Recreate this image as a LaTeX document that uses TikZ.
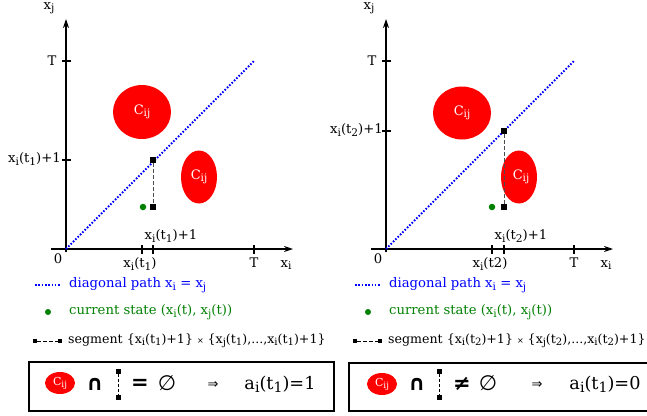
\documentclass[tikz,border=0pt]{standalone}
\usepackage{fontspec}
\setmainfont{DejaVu Serif}
\newfontfamily\symf{DejaVu Sans}
\newcommand\lo[1]{\raisebox{-0.35ex}{\scalebox{0.8}{#1}}}
\newcommand\xx[1]{x\lo{#1}}
\usetikzlibrary{arrows.meta,shapes.geometric}
\begin{document}
\begin{tikzpicture}[x=1pt,y=-1pt,
  axis/.style={line width=1.1pt,-{Stealth[length=9pt,width=6pt]}},
  tickmark/.style={line width=1.1pt},
  lbl/.style={font=\fontsize{13.2}{15}\selectfont, inner sep=0pt},
  big/.style={font=\fontsize{17.7}{20}\selectfont, inner sep=0pt},
  bigsym/.style={font=\fontsize{21}{24}\selectfont\symf, inner sep=0pt},
  diag/.style={blue,line width=1.9pt,dash pattern=on 1.6pt off 1.7pt},
  seg/.style={black!70,line width=0.9pt,dash pattern=on 4pt off 2pt},
  sq/.style={fill=black,draw=none,minimum size=5.5pt,inner sep=0pt,rectangle},
  cur/.style={circle,fill=green!50!black,minimum size=6.5pt,inner sep=0pt},
  blob/.style={ellipse,fill=red,draw=none,inner sep=0pt,text=white,font=\fontsize{13}{15}\selectfont},
  framebox/.style={draw=black,line width=1.2pt}
]
\useasboundingbox (0,0) rectangle (647,415);
\clip (0,0) rectangle (647,415);

% ================= LEFT PLOT =================
\coordinate (Lo) at (66,249);
\coordinate (Lyb) at (66,252);
\coordinate (Lyt) at (66,19);
\coordinate (Lxl) at (51,249);
\coordinate (Lxr) at (293,249);
\draw[axis] (Lyb) -- (Lyt);
\draw[axis] (Lxl) -- (Lxr);
\coordinate (LT) at (255,60);
\draw[diag] (Lo) -- (LT);
% ticks
\draw[tickmark] (62,61) -- (71,61);
\draw[tickmark] (62,160) -- (71,160);
\draw[tickmark] (142,245) -- (142,254);
\draw[tickmark] (153,245) -- (153,254);
\draw[tickmark] (254,245) -- (254,254);
% labels
\node[lbl] (Lxj) at (49,8) {\xx{j}};
\node[lbl] (LTy) at (52,61) {T};
\node[lbl,anchor=east] (Lyl) at (61,159) {\xx{i}(t\lo{1})+1};
\node[lbl] (L0) at (58,259) {0};
\node[lbl] (Lxt) at (140,264) {\xx{i}(t\lo{1})};
\node[lbl] (Lxt1) at (171,236) {\xx{i}(t\lo{1})+1};
\node[lbl] (LTx) at (254,263) {T};
\node[lbl] (Lxi) at (286,265) {\xx{i}};
% obstacles
\node[blob,minimum width=58pt,minimum height=54pt] (Lc1) at (142,112) {C\lo{ij}};
\node[blob,minimum width=36pt,minimum height=53pt] (Lc2) at (199,177) {C\lo{ij}};
% segment
\node[sq] (Ls1) at (153,160) {};
\node[sq] (Ls2) at (153,207) {};
\draw[seg] (Ls1) -- (Ls2);
\node[cur] (Lcur) at (143,207) {};

% ================= RIGHT PLOT =================
\coordinate (Ro) at (386,249);
\coordinate (Ryb) at (386,252);
\coordinate (Ryt) at (386,19);
\coordinate (Rxl) at (371,249);
\coordinate (Rxr) at (613,249);
\draw[axis] (Ryb) -- (Ryt);
\draw[axis] (Rxl) -- (Rxr);
\coordinate (RT) at (575,60);
\draw[diag] (Ro) -- (RT);
\draw[tickmark] (382,61) -- (391,61);
\draw[tickmark] (382,131) -- (391,131);
\draw[tickmark] (492,245) -- (492,254);
\draw[tickmark] (504,245) -- (504,254);
\draw[tickmark] (574,245) -- (574,254);
\node[lbl] (Rxj) at (369,8) {\xx{j}};
\node[lbl] (RTy) at (372,61) {T};
\node[lbl,anchor=east] (Ryl) at (383,130) {\xx{i}(t\lo{2})+1};
\node[lbl] (R0) at (378,259) {0};
\node[lbl] (Rxt) at (490,264) {\xx{i}(t2)};
\node[lbl] (Rxt1) at (521,236) {\xx{i}(t\lo{2})+1};
\node[lbl] (RTx) at (574,263) {T};
\node[lbl] (Rxi) at (606,265) {\xx{i}};
\node[blob,minimum width=58pt,minimum height=53pt] (Rc1) at (462,113) {C\lo{ij}};
\node[blob,minimum width=36pt,minimum height=53pt] (Rc2) at (519,177) {\hspace*{4pt}C\lo{ij}};
\node[sq] (Rs1) at (504,131) {};
\node[sq] (Rs2) at (504,207) {};
\draw[seg] (Rs1) -- (Rs2);
\node[cur] (Rcur) at (492,207) {};

% ================= LEGENDS =================
\foreach \dx/\t in {0/1,320/2}{
  \coordinate (dl\t) at (35+\dx,285);
  \coordinate (dr\t) at (60+\dx,285);
  \draw[diag,line width=1.6pt] (dl\t) -- (dr\t);
  \node[lbl,anchor=west,text=blue] (dt\t) at (69+\dx,285) {diagonal path \xx{i} = \xx{j}};
  \node[cur,minimum size=6pt] (gd\t) at (48+\dx,312) {};
  \node[lbl,anchor=west,text=green!50!black] (gt\t) at (69+\dx,312) {current state (\xx{i}(t), \xx{j}(t))};
  \node[sq,minimum size=4.5pt] (sl\t) at (35+\dx,341) {};
  \node[sq,minimum size=4.5pt] (sr\t) at (60+\dx,341) {};
  \draw[seg,black] (sl\t) -- (sr\t);
}
\node[lbl,anchor=west,font=\fontsize{12.6}{14}\selectfont] (st1) at (68,341) {segment \{\xx{i}(t\lo{1})+1\} {\symf\footnotesize ×} \{\xx{j}(t\lo{1}),...,\xx{i}(t\lo{1})+1\}};
\node[lbl,anchor=west,font=\fontsize{12.6}{14}\selectfont] (st2) at (388,341) {segment \{\xx{i}(t\lo{2})+1\} {\symf\footnotesize ×} \{\xx{j}(t\lo{2}),...,\xx{i}(t\lo{2})+1\}};

% ================= BOXES =================
\draw[framebox] (29,362) rectangle (334,411);
\draw[framebox] (349,363) rectangle (660,411);

% left box
\node[blob,minimum width=30pt,minimum height=22pt,font=\fontsize{11}{12}\selectfont] (bc1) at (60,383) {C\lo{ij}};
\node[bigsym,font=\fontsize{21}{24}\selectfont\symf\bfseries] (cap1) at (95,384) {∩};
\node[sq,minimum size=5pt] (bs1a) at (118,371) {};
\node[sq,minimum size=5pt] (bs1b) at (118,397) {};
\draw[seg,black,line width=0.8pt,dash pattern=on 3pt off 2pt] (bs1a) -- (bs1b);
\node[bigsym,font=\fontsize{21}{24}\selectfont\symf\bfseries] (eq1) at (140,384) {=};
\node[bigsym] (em1) at (167,383) {∅};
\node[lbl,font=\fontsize{13}{15}\selectfont\symf] (ar1) at (213,385) {⇒};
\node[big] (a1) at (280,384) {a\lo{i}(t\lo{1})=1};

% right box
\node[blob,minimum width=30pt,minimum height=22pt,font=\fontsize{11}{12}\selectfont] (bc2) at (382,384) {C\lo{ij}};
\node[bigsym,font=\fontsize{21}{24}\selectfont\symf\bfseries] (cap2) at (417,384) {∩};
\node[sq,minimum size=5pt] (bs2a) at (439,371) {};
\node[sq,minimum size=5pt] (bs2b) at (439,397) {};
\draw[seg,black,line width=0.8pt,dash pattern=on 3pt off 2pt] (bs2a) -- (bs2b);
\node[bigsym,font=\fontsize{21}{24}\selectfont\symf\bfseries] (ne2) at (462,384) {≠};
\node[bigsym] (em2) at (488,383) {∅};
\node[lbl,font=\fontsize{13}{15}\selectfont\symf] (ar2) at (537,385) {⇒};
\node[big] (a2) at (605,384) {a\lo{i}(t\lo{1})=0};
\end{tikzpicture}
\end{document}
